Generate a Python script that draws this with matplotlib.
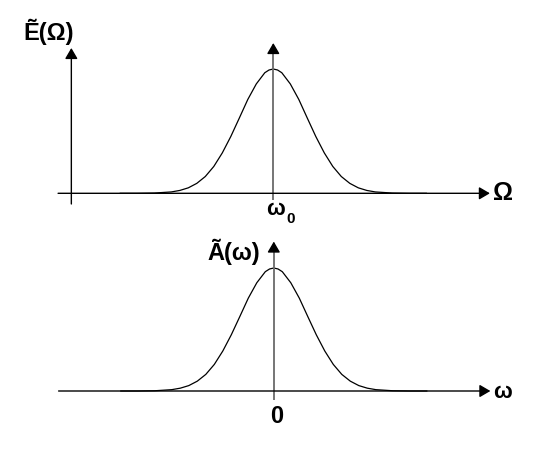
import numpy as np
import matplotlib.pyplot as plt

plt.rcParams['font.family'] = ['Liberation Sans', 'DejaVu Sans']

# spectrum shape: offset from centre (units) and relative height
offsets = [-4.5, -4.0, -3.5, -3.0, -2.75, -2.5, -2.25, -2.0, -1.75, -1.5, -1.25, -1.0,
           -0.75, -0.5, -0.25, -0.125, 0.0, 0.125, 0.25, 0.5, 0.75, 1.0, 1.25, 1.5,
           1.75, 2.0, 2.25, 2.5, 2.75, 3.0, 3.5, 4.0, 4.5]
heights = [0.0, 0.0, 0.002, 0.011, 0.023, 0.044, 0.08, 0.135, 0.216, 0.325, 0.457, 0.605,
           0.755, 0.88, 0.97, 0.992, 1.0, 0.992, 0.97, 0.88, 0.755, 0.605, 0.457, 0.325,
           0.216, 0.135, 0.08, 0.044, 0.023, 0.011, 0.002, 0.0, 0.0]

top_label = 'Ẽ(Ω)'
top_axis_label = 'Ω'
top_tick = ('ω', '0')
bottom_label = 'Ã(ω)'
bottom_axis_label = 'ω'
bottom_tick = '0'

W, H = 550, 450
fig = plt.figure(figsize=(W / 100, H / 100), dpi=100)

sx = 34.0  # pixels per x unit


def make_ax(top_px, bot_px, base_px, cx, sy):
    ax = fig.add_axes([0, 1 - bot_px / H, 1, (bot_px - top_px) / H])
    ax.set_xlim((0 - cx) / sx, (W - cx) / sx)
    ax.set_ylim((base_px - bot_px) / sy, (base_px - top_px) / sy)
    ax.axis('off')
    return ax


def arrow(ax, start, tip, color='black', lw=1.0):
    ax.annotate('', xy=tip, xytext=start,
                arrowprops=dict(arrowstyle='-|>,head_length=0.65,head_width=0.38',
                                mutation_scale=10, lw=lw, color=color,
                                shrinkA=0, shrinkB=0))


def centre_line(ax, y0, y1):
    # grey stem with a black head
    ax.plot([0, 0], [y0, y1 - 0.04], color='#6a6a6a', lw=1.3, solid_capstyle='butt')
    arrow(ax, (0, y1 - 0.06), (0, y1))


x_min, x_max = -6.33, 6.37
tf = dict(fontweight='bold')

# top panel
ax1 = make_ax(0, 225, 193.3, 273.3, 124.3)
ax1.plot(offsets, heights, color='black', lw=0.9)
arrow(ax1, (x_min, 0), (x_max, 0))
arrow(ax1, (-5.94, -0.086), (-5.94, 1.169))
centre_line(ax1, -0.056, 1.209)
ax1.text(-7.36, 1.233, top_label, fontsize=17, ha='left', va='baseline', **tf)
ax1.text(6.46, -0.054, top_axis_label, fontsize=18, ha='left', va='baseline', **tf)
ax1.text(0.35, -0.175, top_tick[0], fontsize=16, ha='right', va='baseline', **tf)
ax1.text(0.37, -0.24, top_tick[1], fontsize=11, ha='left', va='baseline', **tf)

# bottom panel
ax2 = make_ax(225, 450, 391, 273.8, 123)
ax2.plot(offsets, heights, color='black', lw=0.9)
arrow(ax2, (x_min, 0), (x_max, 0))
centre_line(ax2, -0.073, 1.215)
ax2.text(-0.41, 1.065, bottom_label, fontsize=17, ha='right', va='baseline', **tf)
ax2.text(6.45, -0.057, bottom_axis_label, fontsize=16, ha='left', va='baseline', **tf)
ax2.text(0.08, -0.114, bottom_tick, fontsize=17, ha='center', va='top', **tf)

fig.savefig('out.png', dpi=100)
